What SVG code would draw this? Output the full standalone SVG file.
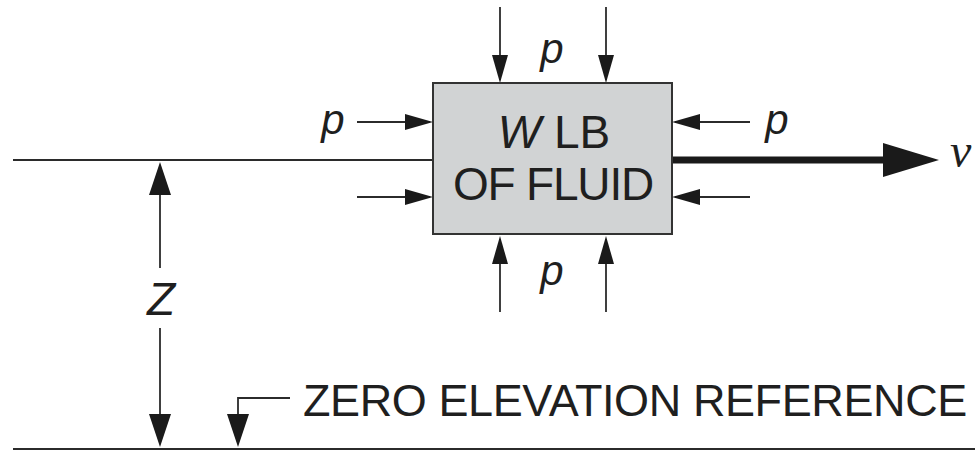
<svg xmlns="http://www.w3.org/2000/svg" width="977" height="453" viewBox="0 0 977 453">
<style>
.ln{stroke:#2b2b2b;stroke-width:1.8;fill:none}
.thick{stroke:#1a1a1a;stroke-width:7;fill:none}
.lab{font-family:"Liberation Sans",Arial,sans-serif;fill:#1f1f1f}
.it{font-style:italic}
.box{fill:#d1d3d4;stroke:#333;stroke-width:2}
</style>
<defs>
<marker id="sm" markerUnits="userSpaceOnUse" viewBox="0 0 28 16" refX="25" refY="8" markerWidth="28" markerHeight="16" orient="auto"><path d="M0,0 L28,8 L0,16 z" fill="#1a1a1a"/></marker>
<marker id="md" markerUnits="userSpaceOnUse" viewBox="0 0 33 22" refX="30" refY="11" markerWidth="33" markerHeight="22" orient="auto"><path d="M0,0 L33,11 L0,22 z" fill="#1a1a1a"/></marker>
<marker id="lg" markerUnits="userSpaceOnUse" viewBox="0 0 56 34" refX="8" refY="17" markerWidth="56" markerHeight="34" orient="auto"><path d="M0,0 L56,17 L0,34 z" fill="#1a1a1a"/></marker>
</defs>
<rect width="977" height="453" fill="#fff"/>
<g id="connectors">
<line class="ln" x1="13" y1="160" x2="433" y2="160"/>
<line class="ln" x1="13" y1="449" x2="975" y2="449" style="stroke-width:2.2"/>
<line class="thick" x1="672" y1="160" x2="891" y2="160" marker-end="url(#lg)"/>
<line class="ln" x1="500" y1="7" x2="500" y2="80" marker-end="url(#sm)"/>
<line class="ln" x1="606" y1="7" x2="606" y2="80" marker-end="url(#sm)"/>
<line class="ln" x1="500" y1="312" x2="500" y2="239" marker-end="url(#sm)"/>
<line class="ln" x1="606" y1="312" x2="606" y2="239" marker-end="url(#sm)"/>
<line class="ln" x1="357" y1="122" x2="430" y2="122" marker-end="url(#sm)"/>
<line class="ln" x1="357" y1="197" x2="430" y2="197" marker-end="url(#sm)"/>
<line class="ln" x1="750" y1="122" x2="675" y2="122" marker-end="url(#sm)"/>
<line class="ln" x1="750" y1="197" x2="675" y2="197" marker-end="url(#sm)"/>
<line class="ln" x1="160" y1="268" x2="160" y2="165" marker-end="url(#md)"/>
<line class="ln" x1="160" y1="328" x2="160" y2="444" marker-end="url(#md)"/>
<polyline class="ln" points="290,398 238,398 238,444" marker-end="url(#md)"/>
</g>
<g id="fluid">
<rect class="box" x="433" y="83" width="239" height="151"/>
<text class="lab" x="554" y="148" font-size="46" text-anchor="middle"><tspan class="it">W</tspan> LB</text>
<text class="lab" x="553" y="200" font-size="46" text-anchor="middle" letter-spacing="-1.2">OF FLUID</text>
</g>
<g id="labels">
<text class="lab it" x="552" y="63" font-size="42" text-anchor="middle">p</text>
<text class="lab it" x="552" y="285" font-size="42" text-anchor="middle">p</text>
<text class="lab it" x="333" y="134" font-size="42" text-anchor="middle">p</text>
<text class="lab it" x="777" y="134" font-size="42" text-anchor="middle">p</text>
<text class="lab it" x="161" y="315" font-size="46" text-anchor="middle">Z</text>
<text x="950" y="167" font-size="48" font-family="'Liberation Serif','Times New Roman',serif" font-style="italic" fill="#1f1f1f">v</text>
</g>
<g id="zero">
<text class="lab" x="303" y="416" font-size="45" letter-spacing="-0.4">ZERO ELEVATION REFERENCE</text>
</g>
</svg>
